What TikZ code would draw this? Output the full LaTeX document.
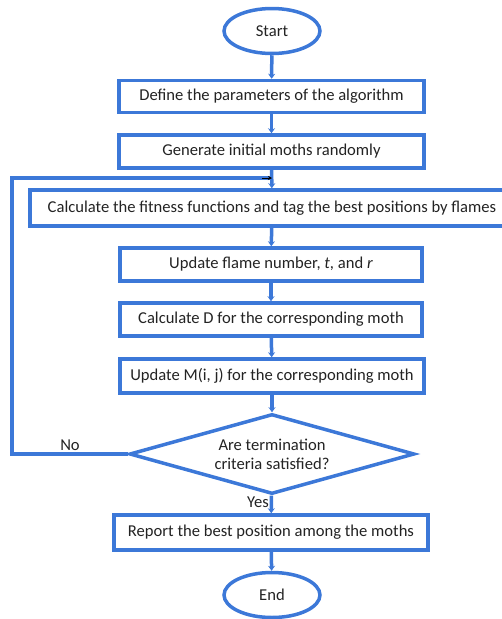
\documentclass[tikz,border=0pt]{standalone}
\usepackage{fontspec}
\setmainfont{Carlito}
\usetikzlibrary{shapes.geometric,arrows.meta}
\definecolor{fblue}{RGB}{60,120,216}
\definecolor{ftext}{RGB}{35,35,35}
\tikzset{
  every node/.style={font=\fontsize{16.6}{19}\selectfont, text=ftext},
  procbox/.style={draw=fblue, line width=3.5pt, rectangle, minimum height=32pt, inner sep=0pt},
  termbox/.style={draw=fblue, line width=3.5pt, ellipse, minimum width=96pt, minimum height=45pt},
  decbox/.style={draw=fblue, line width=3.5pt, diamond, aspect=3.6, minimum width=285pt, minimum height=80pt, inner sep=0pt, align=center},
  conn/.style={draw=fblue, line width=3.5pt, -{Stealth[length=5pt,width=7pt]}},
}
\begin{document}
\begin{tikzpicture}[x=1pt,y=-1pt]
\useasboundingbox (0,0) rectangle (502,619);
\node[termbox] (start) at (272,31) {Start};
\node[procbox, minimum width=305pt] (p1) at (271.5,96.5) {Define the parameters of the algorithm};
\node[procbox, minimum width=305pt, minimum height=33pt] (p2) at (271.5,151.5) {Generate initial moths randomly};
\node[procbox, minimum width=484pt, minimum height=36pt] (p3) at (272,208) {Calculate the fitness functions and tag the best positions by flames};
\node[procbox, minimum width=302pt, minimum height=33pt] (p4) at (271,264.5) {Update flame number, \textit{t}, and \textit{r}};
\node[procbox, minimum width=302pt, minimum height=33pt] (p5) at (271,319.5) {Calculate D for the corresponding moth};
\node[procbox, minimum width=304pt, minimum height=34pt] (p6) at (272,376) {Update M(i, j) for the corresponding moth};
\node[decbox] (dec) at (272,454) {Are termination\\criteria satisfied?};
\node[procbox, minimum width=314pt, minimum height=35pt] (p7) at (271,532.5) {Report the best position among the moths};
\node[termbox] (end) at (272,595) {End};
\coordinate (loopL) at (12,454);
\coordinate (loopT) at (12,178);
\coordinate (join) at (272,178);
\draw[conn] (start) -- (p1);
\draw[conn] (p1) -- (p2);
\draw[conn] (p2) -- (p3);
\draw[draw=fblue, line width=3.5pt] (dec.west) -- (loopL) -- (loopT) -- ([xshift=-2pt]join);
\draw[-{Stealth[length=4pt,width=4pt]}, line width=0.6pt] ([xshift=-10pt]join) -- (join);
\draw[conn] (p3) -- (p4);
\draw[conn] (p4) -- (p5);
\draw[conn] (p5) -- (p6);
\draw[conn] (p6) -- (dec);
\draw[conn] (dec) -- (p7);
\draw[conn] (p7) -- (end);
\node at (70,445) {No};
\node at (258,502) {Yes};
\end{tikzpicture}
\end{document}
